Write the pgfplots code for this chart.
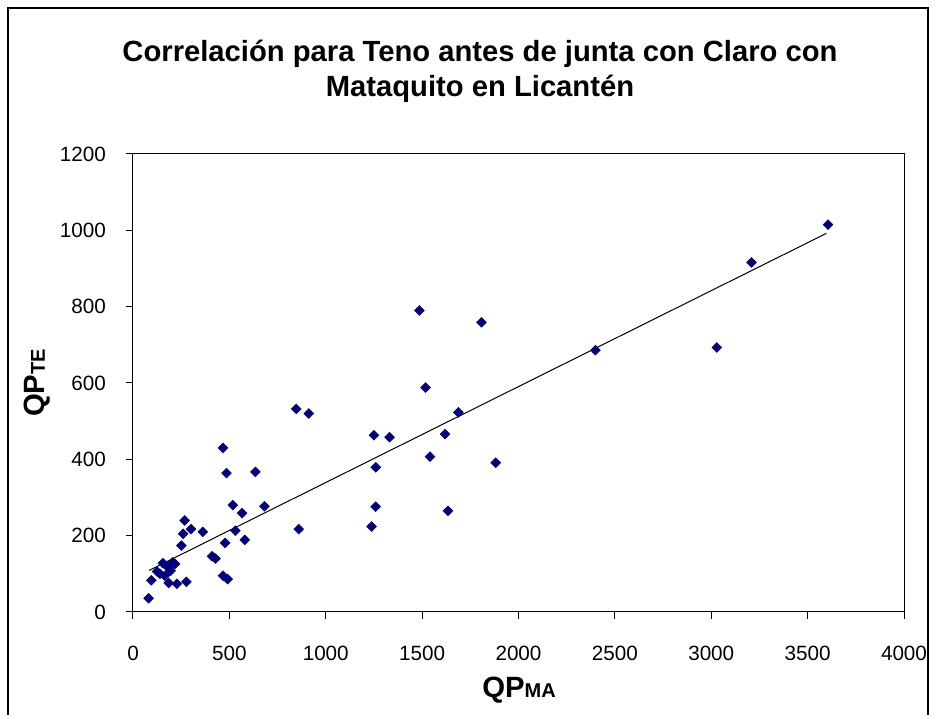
\documentclass[border=0pt]{standalone}
\usepackage{fontspec}
\setmainfont{Liberation Sans}
\usepackage{pgfplots}
\pgfplotsset{compat=1.18}
\definecolor{navy}{RGB}{0,0,128}
\begin{document}
\begin{tikzpicture}
\begin{axis}[
  at={(0pt,0pt)}, anchor=south west,
  scale only axis, width=578.25pt, height=343.5pt,
  xmin=0, xmax=4000, ymin=0, ymax=1200,
  xtick={0,500,...,4000}, ytick={0,200,...,1200},
  tick align=outside,
  xtick pos=bottom, ytick pos=left,
  major tick length=0.18cm,
  major tick style={draw=black, line width=0.75pt},
  axis line style={line width=0.75pt},
  ticklabel style={font=\fontsize{15.5}{17}\selectfont},
  xticklabel style={anchor=north, inner sep=0pt, yshift=-20pt},
  yticklabel style={anchor=east, inner sep=0pt, xshift=-15pt},
  /pgf/number format/assume math mode=true,
  /pgf/number format/1000 sep={},
  clip=false,
]
\addplot[only marks, mark=square*, mark size=2.6pt, mark options={rotate=45, fill=navy, draw=navy}] coordinates {
(81,36) (95,83) (125,106) (140,100) (155,128) (165,95) (177,119) (185,76)
(195,108) (206,130) (218,126) (228,74) (251,174) (260,205) (268,240) (277,79)
(301,217) (362,210) (410,146) (428,140) (467,95) (491,86) (467,430) (485,364)
(478,181) (518,280) (531,213) (566,259) (580,189) (635,367) (682,277) (847,532)
(860,217) (912,520) (1238,224) (1250,463) (1260,379) (1259,276) (1331,458)
(1486,790) (1518,588) (1541,407) (1619,466) (1634,265) (1688,523) (1808,759)
(1882,391) (2399,686) (3029,693) (3209,916) (3606,1015)
};
\addplot[black, line width=0.75pt, no marks] coordinates {(84,109) (3597,992)};
\end{axis}
\foreach \i in {0,...,8} \draw[black, line width=0.75pt] (\i*72.28125pt,0pt) -- (\i*72.28125pt,-5pt);
\foreach \i in {0,...,6} \draw[black, line width=0.75pt] (0pt,\i*57.25pt) -- (-5pt,\i*57.25pt);
\draw[line width=0.9pt] (-93.75pt,-77.25pt) -- (-93.75pt,453pt) -- (596.25pt,453pt) -- (596.25pt,-77.25pt);
\path (-99.75pt,-77.25pt) rectangle (605.25pt,459pt);
\node[anchor=base, font=\bfseries\fontsize{21.9}{24}\selectfont] at (260.25pt,413pt) {Correlación para Teno antes de junta con Claro con};
\node[anchor=base, font=\bfseries\fontsize{21.9}{24}\selectfont] at (260.25pt,386.5pt) {Mataquito en Licantén};
\node[anchor=base, font=\bfseries\fontsize{22}{24}\selectfont] at (289.5pt,-64.5pt) {QP{\fontsize{15}{17}\selectfont MA}};
\node[anchor=base, rotate=90, font=\bfseries\fontsize{22}{24}\selectfont] at (-66pt,171.75pt) {QP{\fontsize{15}{17}\selectfont TE}};
\end{tikzpicture}
\end{document}
